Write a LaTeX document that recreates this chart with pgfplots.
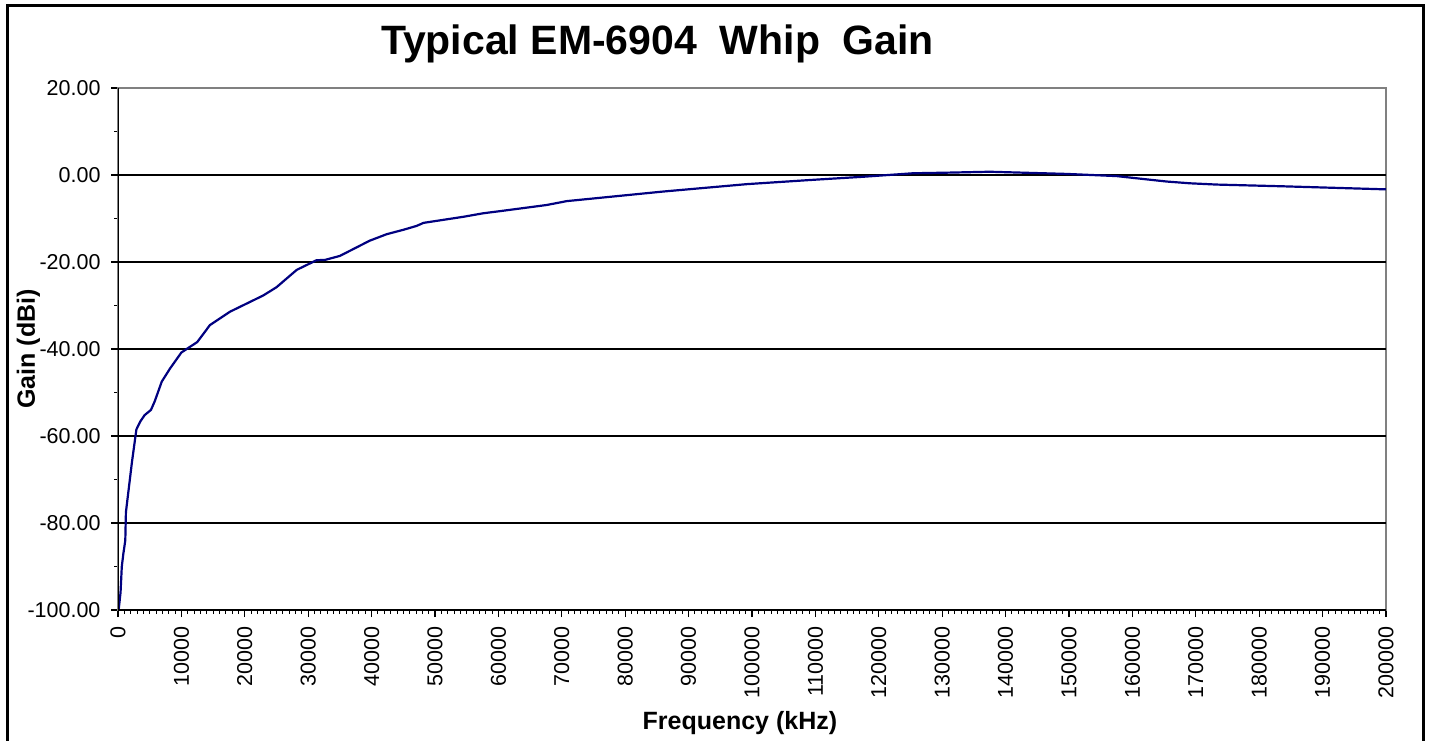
\documentclass[border=0pt]{standalone}
\usepackage{pgfplots}
\pgfplotsset{compat=1.18}
\usepackage{fontspec}
\setmainfont{Liberation Sans}
\definecolor{navy}{RGB}{0,0,128}
\definecolor{boxgray}{RGB}{128,128,128}
\begin{document}
\begin{tikzpicture}
\path[use as bounding box] (0,0) rectangle (1429pt,-741pt);
\draw[line width=2.5pt] (7.5pt,-5.5pt) rectangle (1423.5pt,-800pt);
\begin{axis}[
    at={(118pt,-610pt)}, anchor=south west,
    scale only axis,
    width=1268pt, height=522pt,
    xmin=0, xmax=200000,
    ymin=-100, ymax=20,
    enlargelimits=false,
    xtick={0,10000,...,200000},
    xticklabels={0,10000,20000,30000,40000,50000,60000,70000,80000,90000,100000,
      110000,120000,130000,140000,150000,160000,170000,180000,190000,200000},
    ytick={-100,-80,...,20},
    yticklabels={-100.00,-80.00,-60.00,-40.00,-20.00,0.00,20.00},
    minor x tick num=9,
    minor y tick num=1,
    xtick pos=bottom, ytick pos=left,
    tick align=outside,
    major tick length=7pt, minor tick length=4pt,
    every tick/.style={black, line width=1.2pt},
    minor tick style={line width=0.9pt},
    axis line style={boxgray, line width=1.5pt},
    scaled ticks=false,
    ticklabel style={font=\fontsize{21.5}{25}\selectfont},
    xticklabel style={rotate=90, anchor=east},
    xticklabel shift=6pt,
    yticklabel shift=7pt,
    extra y ticks={-80,-60,-40,-20,0},
    extra y tick labels={},
    extra y tick style={grid=major, major grid style={black, line width=1.5pt}},
    title={Typical EM-6904\ \ Whip\ \ Gain},
    title style={font=\fontsize{41}{48}\selectfont\bfseries, at={(axis description cs:0.4255,1.0536)}, anchor=base},
    xlabel={Frequency (kHz)},
    xlabel style={font=\fontsize{25}{30}\selectfont\bfseries, at={(axis description cs:0.4905,-0.228)}, anchor=base},
    ylabel={Gain (dBi)},
    ylabel style={font=\fontsize{25}{30}\selectfont\bfseries, at={(axis description cs:-0.0655,0.5)}, anchor=base},
]
\addplot[navy, line width=2.2pt] coordinates {
(100,-100) (400,-96) (600,-90) (850,-87) (1150,-84) (1250,-77.5)
(2200,-66) (2900,-58.5) (3500,-56.7) (4200,-55.2) (5200,-54) (5800,-52)
(6900,-47.5) (8200,-44.5) (10000,-40.8) (12500,-38.4) (14500,-34.5)
(17700,-31.4) (22900,-27.7) (25000,-25.8) (28200,-21.8) (31300,-19.6)
(32700,-19.5) (35000,-18.6) (39700,-15.1) (42400,-13.6) (45000,-12.6)
(47100,-11.7) (48200,-11.0) (54500,-9.6) (57600,-8.8) (60300,-8.3)
(67600,-6.9) (70800,-6.0) (86000,-3.8) (99200,-2.1) (109700,-1.1)
(117600,-0.4) (125400,0.4) (131200,0.55) (137500,0.75) (149600,0.25)
(157500,-0.25) (165400,-1.5) (169000,-1.9) (173300,-2.2) (183800,-2.6)
(200000,-3.3)
};
\draw[black, line width=1.5pt] (rel axis cs:0,1) -- (rel axis cs:0,0) -- (rel axis cs:1,0);
\end{axis}
\end{tikzpicture}
\end{document}
